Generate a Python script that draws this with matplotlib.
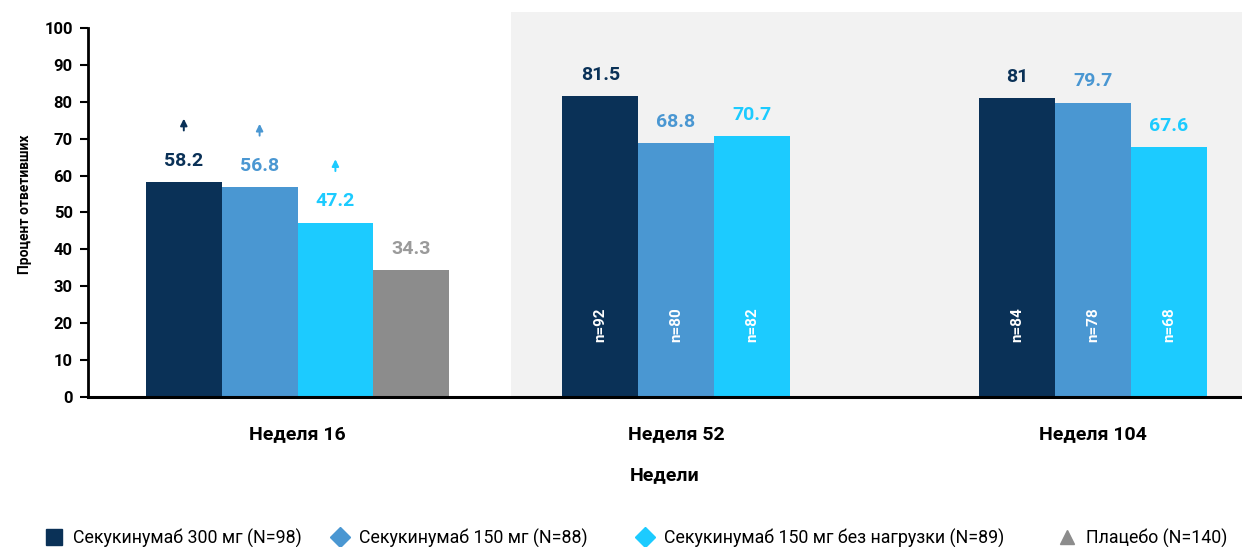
import matplotlib
matplotlib.use("Agg")
import matplotlib.pyplot as plt
from matplotlib.lines import Line2D
from matplotlib.patches import Rectangle

plt.rcParams['font.family'] = ['Roboto', 'DejaVu Sans']

weeks = ["Неделя 16", "Неделя 52", "Неделя 104"]
series = ["Секукинумаб 300 мг (N=98)", "Секукинумаб 150 мг (N=88)",
          "Секукинумаб 150 мг без нагрузки (N=89)", "Плацебо (N=140)"]
values = [
    [58.2, 56.8, 47.2, 34.3],   # week 16
    [81.5, 68.8, 70.7],         # week 52
    [81.0, 79.7, 67.6],         # week 104
]
value_labels = [
    ["58.2", "56.8", "47.2", "34.3"],
    ["81.5", "68.8", "70.7"],
    ["81", "79.7", "67.6"],
]
n_labels = [
    [None, None, None, None],
    ["n=92", "n=80", "n=82"],
    ["n=84", "n=78", "n=68"],
]
arrows_week16 = [True, True, True, False]

colors = ["#0a3157", "#4a97d2", "#1ccbff", "#8c8c8c"]
label_colors = ["#0a3157", "#4a97d2", "#1ccbff", "#9a9a9a"]
markers = ["s", "D", "D", "^"]

fig = plt.figure(figsize=(12.42, 5.47), dpi=100)
W, H = 1242, 547
ax = fig.add_axes([88 / W, (H - 397) / H, (W - 88) / W, (397 - 12) / H])

bw = 75.8
group_centers = [297.5, 676.0, 1093.0]
ax.set_xlim(88, 1242)
ax.set_ylim(0, 104.3)

# shaded background for weeks 52 and 104
ax.add_patch(Rectangle((511, 0), 1242 - 511, 104.3, facecolor="#f2f2f2",
                       edgecolor="none", zorder=0))

for g, vals in enumerate(values):
    k = len(vals)
    for i, v in enumerate(vals):
        x = group_centers[g] + (i - (k - 1) / 2) * bw
        ax.bar(x, v, width=bw, color=colors[i], zorder=2, linewidth=0)
        ax.annotate(value_labels[g][i], (x, v), xytext=(0, 9),
                    textcoords="offset points", ha="center", va="bottom",
                    fontsize=14, fontweight="bold", color=label_colors[i])
        if n_labels[g][i]:
            ax.text(x, 19.5, n_labels[g][i], rotation=90, ha="center",
                    va="center", color="white", fontsize=11,
                    fontweight="bold", zorder=3)
        if g == 0 and arrows_week16[i]:
            ax.annotate("", xy=(x, v + 17.2), xytext=(x, v + 14.0),
                        arrowprops=dict(arrowstyle="-|>,head_length=0.4,head_width=0.2",
                                        color=label_colors[i], lw=1.4,
                                        shrinkA=0, shrinkB=0))

ax.set_xticks(group_centers)
ax.set_xticklabels(weeks, fontsize=14, fontweight="bold")
ax.tick_params(axis="x", length=0, pad=20)
ax.set_yticks(range(0, 101, 10))
ax.set_yticklabels([str(t) for t in range(0, 101, 10)], fontsize=12,
                   fontweight="bold")
ax.tick_params(axis="y", length=6, width=1.5, pad=5)
ax.set_ylabel("Процент ответивших", fontsize=10, fontweight="bold",
              labelpad=9)
ax.set_xlabel("Недели", fontsize=14, fontweight="bold", labelpad=17)

for s in ["top", "right"]:
    ax.spines[s].set_visible(False)
ax.spines["left"].set_bounds(0, 100)
ax.spines["left"].set_linewidth(2)
ax.spines["bottom"].set_linewidth(2.2)
ax.set_facecolor("none")

# legend
legend_x = [45, 331, 636, 1058]
for i in range(4):
    h = Line2D([], [], linestyle="none", marker=markers[i], color=colors[i],
               markersize=10.5 if markers[i] != "s" else 11)
    fig.legend([h], [series[i]], loc="center left",
               bbox_to_anchor=(legend_x[i] / W, 1 - 538 / H), frameon=False,
               fontsize=12.8, handlelength=1.0, handletextpad=0.55,
               borderpad=0, borderaxespad=0)

fig.savefig("out.png", dpi=100)
